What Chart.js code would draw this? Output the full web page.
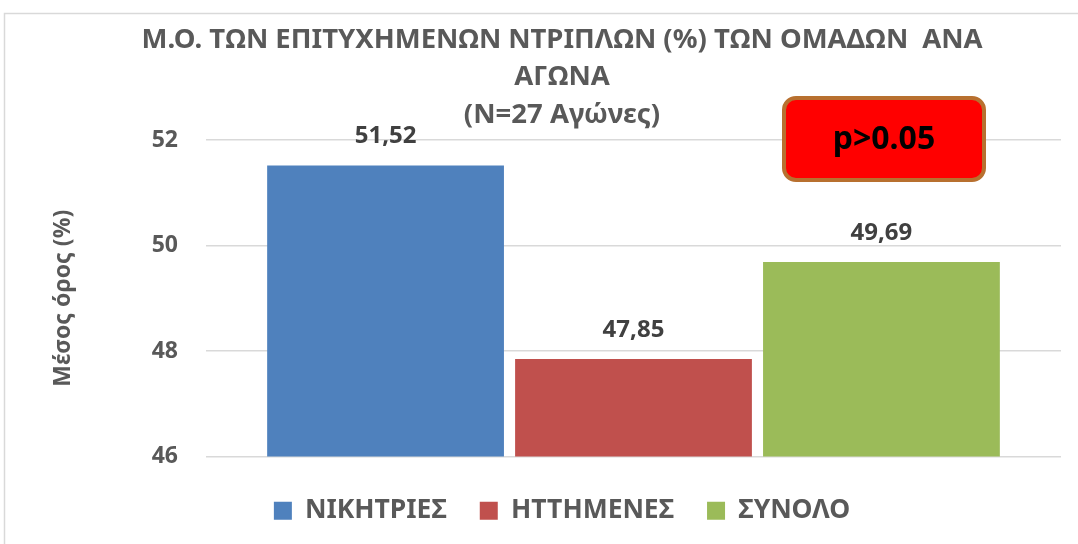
<!DOCTYPE html>
<html>
<head>
<meta charset="utf-8">
<script src="https://cdn.jsdelivr.net/npm/chart.js@4.4.1/dist/chart.umd.min.js"></script>
<style>
  html, body { margin: 0; padding: 0; background: #fff; }
  #wrap { width: 1078px; height: 544px; position: relative; }
</style>
</head>
<body>
<div id="wrap"><canvas id="myChart" width="1078" height="544"></canvas></div>
<script>
const labels = [''];
const groups = ['ΝΙΚΗΤΡΙΕΣ', 'ΗΤΤΗΜΕΝΕΣ', 'ΣΥΝΟΛΟ'];
const values = [51.52, 47.85, 49.69];
const colors = ['#4F81BD', '#C0504D', '#9BBB59'];
const yTicks = [46, 48, 50, 52];

const FONT = "'Noto Sans', sans-serif";
const GREY = '#595959';
const PAD_LEFT = 63;

const data = {
    labels,
    datasets: groups.map((g, i) => ({
        label: g,
        data: [values[i]],
        backgroundColor: colors[i],
        borderWidth: 0,
        categoryPercentage: 0.87,
        barPercentage: 0.955,
    })),
};

// frame, value labels and the p-value box
const extras = {
    id: 'extras',
    beforeDraw(chart) {
        const c = chart.ctx;
        c.save();
        c.strokeStyle = '#d9d9d9';
        c.lineWidth = 1.5;
        c.strokeRect(4.5, 13.5, 1100, 600);
        c.restore();
    },
    afterDatasetsDraw(chart) {
        const c = chart.ctx;
        c.save();
        c.font = 'bold 24px ' + FONT;
        c.fillStyle = '#404040';
        c.textAlign = 'center';
        c.textBaseline = 'middle';
        chart.data.datasets.forEach((ds, i) => {
            chart.getDatasetMeta(i).data.forEach((bar, j) => {
                c.fillText(ds.data[j].toFixed(2).replace('.', ','), bar.x, bar.y - 29);
            });
        });
        c.restore();
    },
    afterDraw(chart) {
        const c = chart.ctx;
        c.save();
        c.beginPath();
        c.roundRect(784, 98, 200, 82, 12);
        c.fillStyle = '#FF0000';
        c.fill();
        c.lineWidth = 4;
        c.strokeStyle = '#B8702F';
        c.stroke();
        c.font = 'bold 32px ' + FONT;
        c.fillStyle = '#000';
        c.textAlign = 'center';
        c.textBaseline = 'middle';
        c.fillText('p>0.05', 884, 140);
        c.restore();
    }
};

const config = {
    type: 'bar',
    data: data,
    plugins: [extras],
    options: {
        responsive: false,
        animation: false,
        layout: { padding: { left: PAD_LEFT, right: 17, top: 0, bottom: 10 } },
        plugins: {
            title: {
                display: true,
                text: ['Μ.Ο. ΤΩΝ ΕΠΙΤΥΧΗΜΕΝΩΝ ΝΤΡΙΠΛΩΝ (%) ΤΩΝ ΟΜΑΔΩΝ  ΑΝΑ', 'ΑΓΩΝΑ', '(N=27 Αγώνες)'],
                color: GREY,
                font: { family: FONT, size: 27.5, weight: 'bold', lineHeight: 1.365 },
                padding: { top: 21, bottom: 6.5 },
            },
            legend: {
                position: 'bottom',
                labels: {
                    color: GREY,
                    font: { family: FONT, size: 26.5, weight: 'bold' },
                    boxWidth: 18,
                    boxHeight: 18,
                    padding: 33,
                },
            },
            tooltip: { enabled: false },
        },
        scales: {
            x: {
                grid: { display: false },
                border: { display: false },
                ticks: { display: false },
            },
            y: {
                min: 46,
                max: 52,
                afterBuildTicks(scale) {
                    scale.ticks = yTicks.map(v => ({ value: v }));
                },
                afterFit(scale) {
                    scale.width = 206 - PAD_LEFT;
                },
                grid: { color: '#d9d9d9', lineWidth: 1.5, drawTicks: false },
                border: { display: false },
                ticks: {
                    color: GREY,
                    font: { family: FONT, size: 23, weight: 'bold' },
                    padding: 28,
                },
                title: {
                    display: true,
                    text: 'Μέσος όρος (%)',
                    color: GREY,
                    font: { family: FONT, size: 23, weight: 'bold' },
                    padding: { top: -13, bottom: 0 },
                },
            },
        },
    },
};

const myChart = new Chart(document.querySelector('#myChart').getContext('2d'), config);
</script>
</body>
</html>
